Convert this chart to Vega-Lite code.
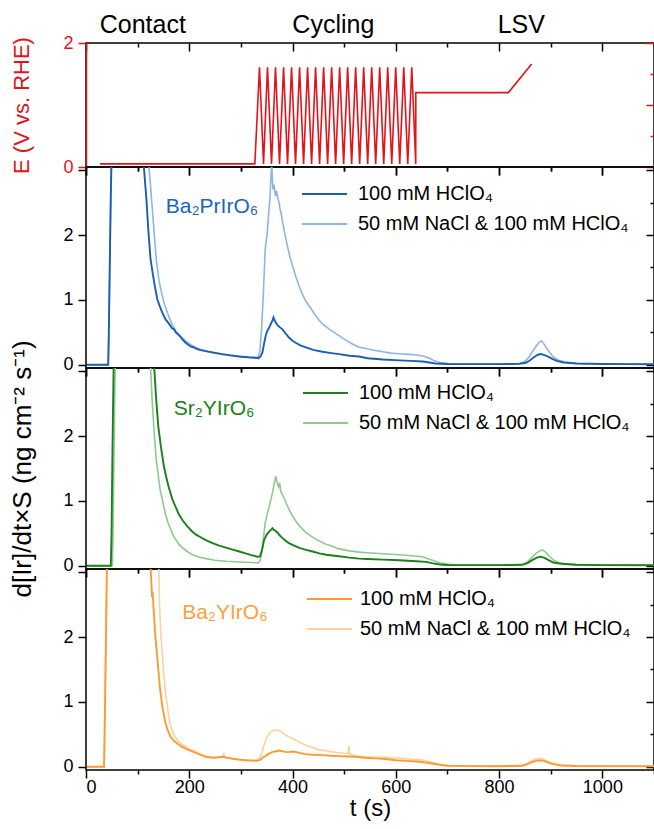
{
  "$schema": "https://vega.github.io/schema/vega-lite/v6.json",
  "padding": {"left": 9, "top": 12, "right": 0, "bottom": 5},
  "config": {
    "font": "Liberation Sans",
    "view": {"stroke": "#000000", "strokeWidth": 1.5},
    "axis": {"grid": false, "domain": false, "labelFont": "Liberation Sans", "titleFont": "Liberation Sans", "labelFontSize": 18, "titleFontSize": 24, "titleFontWeight": "normal", "labelColor": "#000000", "titleColor": "#000000", "tickColor": "#000000", "tickWidth": 1.5}
  },
  "datasets": {
    "potential": [
      {"t": 27, "E": 0.05}, {"t": 327, "E": 0.05},
      {"t": 336.0, "E": 1.61}, {"t": 343.8, "E": 0.05}, {"t": 351.5, "E": 1.61}, {"t": 359.3, "E": 0.05},
      {"t": 367.0, "E": 1.61}, {"t": 374.8, "E": 0.05}, {"t": 382.6, "E": 1.61}, {"t": 390.3, "E": 0.05},
      {"t": 398.1, "E": 1.61}, {"t": 405.8, "E": 0.05}, {"t": 413.6, "E": 1.61}, {"t": 421.4, "E": 0.05},
      {"t": 429.1, "E": 1.61}, {"t": 436.9, "E": 0.05}, {"t": 444.6, "E": 1.61}, {"t": 452.4, "E": 0.05},
      {"t": 460.2, "E": 1.61}, {"t": 467.9, "E": 0.05}, {"t": 475.7, "E": 1.61}, {"t": 483.4, "E": 0.05},
      {"t": 491.2, "E": 1.61}, {"t": 499.0, "E": 0.05}, {"t": 506.7, "E": 1.61}, {"t": 514.5, "E": 0.05},
      {"t": 522.2, "E": 1.61}, {"t": 530.0, "E": 0.05}, {"t": 537.8, "E": 1.61}, {"t": 545.5, "E": 0.05},
      {"t": 553.3, "E": 1.61}, {"t": 561.0, "E": 0.05}, {"t": 568.8, "E": 1.61}, {"t": 576.6, "E": 0.05},
      {"t": 584.3, "E": 1.61}, {"t": 592.1, "E": 0.05}, {"t": 599.8, "E": 1.61}, {"t": 607.6, "E": 0.05},
      {"t": 615.4, "E": 1.61}, {"t": 623.1, "E": 0.05}, {"t": 630.9, "E": 1.61}, {"t": 638.6, "E": 0.05},
      {"t": 638.7, "E": 1.2}, {"t": 818, "E": 1.2}, {"t": 863, "E": 1.66}
    ],
    "phases": [
      {"phase": "Contact", "t": 110},
      {"phase": "Cycling", "t": 479},
      {"phase": "LSV", "t": 843}
    ],
    "ba2pr_hclo4": [
      {"t": 2, "v": 0}, {"t": 43, "v": 0}, {"t": 44, "v": 0.4}, {"t": 46, "v": 1.5}, {"t": 48, "v": 2.6}, {"t": 49.5, "v": 3.2}, {"t": 60, "v": 8}, {"t": 100, "v": 5},
      {"t": 112, "v": 3.06}, {"t": 117, "v": 2.55}, {"t": 121, "v": 2.04}, {"t": 125, "v": 1.63}, {"t": 129, "v": 1.42}, {"t": 132, "v": 1.27}, {"t": 138, "v": 1.01}, {"t": 143, "v": 0.9},
      {"t": 148, "v": 0.8}, {"t": 154, "v": 0.7}, {"t": 161, "v": 0.63}, {"t": 167, "v": 0.56}, {"t": 170, "v": 0.55}, {"t": 174, "v": 0.5}, {"t": 178, "v": 0.47}, {"t": 183, "v": 0.43},
      {"t": 188, "v": 0.38}, {"t": 193, "v": 0.34}, {"t": 198, "v": 0.31}, {"t": 203, "v": 0.28}, {"t": 208, "v": 0.27}, {"t": 213, "v": 0.25}, {"t": 220, "v": 0.23}, {"t": 232, "v": 0.21},
      {"t": 245, "v": 0.19}, {"t": 264, "v": 0.164}, {"t": 280, "v": 0.145}, {"t": 297, "v": 0.128}, {"t": 315, "v": 0.115}, {"t": 329, "v": 0.108}, {"t": 334, "v": 0.1}, {"t": 338, "v": 0.13},
      {"t": 341.7, "v": 0.19}, {"t": 345, "v": 0.33}, {"t": 348, "v": 0.447}, {"t": 351, "v": 0.52}, {"t": 354.8, "v": 0.575}, {"t": 358, "v": 0.63}, {"t": 361, "v": 0.68}, {"t": 363, "v": 0.73},
      {"t": 365, "v": 0.69}, {"t": 367, "v": 0.66}, {"t": 370, "v": 0.62}, {"t": 375, "v": 0.58}, {"t": 380, "v": 0.55}, {"t": 386, "v": 0.49}, {"t": 393, "v": 0.42}, {"t": 400, "v": 0.37},
      {"t": 406, "v": 0.34}, {"t": 415, "v": 0.3}, {"t": 426, "v": 0.267}, {"t": 440, "v": 0.23}, {"t": 458, "v": 0.2}, {"t": 475, "v": 0.18}, {"t": 490, "v": 0.164}, {"t": 510, "v": 0.14},
      {"t": 529, "v": 0.128}, {"t": 545, "v": 0.1}, {"t": 575, "v": 0.08}, {"t": 607, "v": 0.068}, {"t": 630, "v": 0.06}, {"t": 652, "v": 0.05}, {"t": 665, "v": 0.035}, {"t": 677, "v": 0.02},
      {"t": 700, "v": 0.012}, {"t": 750, "v": 0.01}, {"t": 800, "v": 0.01}, {"t": 840, "v": 0.015}, {"t": 852, "v": 0.03}, {"t": 860, "v": 0.07}, {"t": 868, "v": 0.12}, {"t": 875, "v": 0.155},
      {"t": 881, "v": 0.165}, {"t": 888, "v": 0.15}, {"t": 895, "v": 0.125}, {"t": 903, "v": 0.09}, {"t": 912, "v": 0.06}, {"t": 925, "v": 0.035}, {"t": 950, "v": 0.02}, {"t": 1000, "v": 0.012},
      {"t": 1050, "v": 0.01}, {"t": 1100, "v": 0.008}
    ],
    "ba2pr_nacl": [
      {"t": 2, "v": 0}, {"t": 43, "v": 0}, {"t": 44, "v": 0.4}, {"t": 46, "v": 1.5}, {"t": 48, "v": 2.6}, {"t": 49.5, "v": 3.2}, {"t": 60, "v": 8}, {"t": 110, "v": 5},
      {"t": 122, "v": 3.06}, {"t": 127, "v": 2.55}, {"t": 132, "v": 2.04}, {"t": 136, "v": 1.63}, {"t": 141, "v": 1.32}, {"t": 146, "v": 1.12}, {"t": 151, "v": 0.96}, {"t": 156, "v": 0.84},
      {"t": 161, "v": 0.73}, {"t": 167, "v": 0.62}, {"t": 174, "v": 0.52}, {"t": 183, "v": 0.44}, {"t": 193, "v": 0.37}, {"t": 203, "v": 0.31}, {"t": 213, "v": 0.265}, {"t": 222, "v": 0.235},
      {"t": 232, "v": 0.21}, {"t": 245, "v": 0.185}, {"t": 264, "v": 0.16}, {"t": 280, "v": 0.145}, {"t": 297, "v": 0.128}, {"t": 315, "v": 0.112}, {"t": 332, "v": 0.1}, {"t": 336.5, "v": 0.19},
      {"t": 340, "v": 0.55}, {"t": 343, "v": 1.01}, {"t": 347, "v": 1.78}, {"t": 351, "v": 2.04}, {"t": 353, "v": 2.25}, {"t": 356, "v": 2.55}, {"t": 359.6, "v": 3.1}, {"t": 361, "v": 2.85},
      {"t": 362, "v": 2.7}, {"t": 364, "v": 2.78}, {"t": 367, "v": 2.6}, {"t": 369, "v": 2.68}, {"t": 372, "v": 2.55}, {"t": 374, "v": 2.5}, {"t": 376, "v": 2.39}, {"t": 378, "v": 2.33},
      {"t": 381, "v": 2.19}, {"t": 386, "v": 1.98}, {"t": 391, "v": 1.8}, {"t": 396, "v": 1.63}, {"t": 401, "v": 1.5}, {"t": 406, "v": 1.37}, {"t": 412, "v": 1.23}, {"t": 419, "v": 1.09},
      {"t": 425, "v": 0.99}, {"t": 432, "v": 0.91}, {"t": 442, "v": 0.79}, {"t": 452, "v": 0.68}, {"t": 461, "v": 0.61}, {"t": 471, "v": 0.55}, {"t": 480, "v": 0.5}, {"t": 490, "v": 0.45},
      {"t": 503, "v": 0.38}, {"t": 516, "v": 0.32}, {"t": 529, "v": 0.27}, {"t": 542, "v": 0.25}, {"t": 560, "v": 0.22}, {"t": 575, "v": 0.2}, {"t": 590, "v": 0.18}, {"t": 607, "v": 0.17},
      {"t": 626, "v": 0.16}, {"t": 640, "v": 0.15}, {"t": 655, "v": 0.13}, {"t": 665, "v": 0.1}, {"t": 675, "v": 0.06}, {"t": 685, "v": 0.035}, {"t": 700, "v": 0.02}, {"t": 720, "v": 0.012},
      {"t": 800, "v": 0.01}, {"t": 840, "v": 0.02}, {"t": 850, "v": 0.05}, {"t": 858, "v": 0.12}, {"t": 866, "v": 0.22}, {"t": 873, "v": 0.3}, {"t": 878, "v": 0.35}, {"t": 882, "v": 0.37},
      {"t": 886, "v": 0.33}, {"t": 890, "v": 0.28}, {"t": 897, "v": 0.2}, {"t": 905, "v": 0.12}, {"t": 915, "v": 0.07}, {"t": 930, "v": 0.04}, {"t": 950, "v": 0.02}, {"t": 1000, "v": 0.012},
      {"t": 1100, "v": 0.008}
    ],
    "sr2y_hclo4": [
      {"t": 2, "v": 0}, {"t": 48, "v": 0}, {"t": 49.5, "v": 0.5}, {"t": 51, "v": 1.6}, {"t": 53, "v": 2.8}, {"t": 54, "v": 3.3}, {"t": 70, "v": 8}, {"t": 125, "v": 5},
      {"t": 132, "v": 3.07}, {"t": 136, "v": 2.56}, {"t": 140, "v": 2.15}, {"t": 145, "v": 1.84}, {"t": 151, "v": 1.53}, {"t": 155, "v": 1.38}, {"t": 160, "v": 1.22}, {"t": 167.5, "v": 1.02},
      {"t": 174, "v": 0.9}, {"t": 180, "v": 0.79}, {"t": 188, "v": 0.69}, {"t": 196, "v": 0.61}, {"t": 204, "v": 0.54}, {"t": 213, "v": 0.48}, {"t": 222, "v": 0.44}, {"t": 232, "v": 0.395},
      {"t": 245, "v": 0.35}, {"t": 258, "v": 0.31}, {"t": 271, "v": 0.28}, {"t": 284, "v": 0.25}, {"t": 297, "v": 0.22}, {"t": 309, "v": 0.19}, {"t": 320, "v": 0.165}, {"t": 332, "v": 0.14},
      {"t": 337, "v": 0.145}, {"t": 341, "v": 0.25}, {"t": 345, "v": 0.4}, {"t": 350, "v": 0.48}, {"t": 355, "v": 0.53}, {"t": 359, "v": 0.56}, {"t": 361, "v": 0.58}, {"t": 364, "v": 0.55},
      {"t": 367, "v": 0.54}, {"t": 371, "v": 0.51}, {"t": 375, "v": 0.47}, {"t": 380, "v": 0.43}, {"t": 386, "v": 0.39}, {"t": 393, "v": 0.35}, {"t": 403, "v": 0.31}, {"t": 413, "v": 0.275},
      {"t": 426, "v": 0.245}, {"t": 439, "v": 0.22}, {"t": 452, "v": 0.19}, {"t": 465, "v": 0.17}, {"t": 477, "v": 0.158}, {"t": 490, "v": 0.147}, {"t": 510, "v": 0.125}, {"t": 529, "v": 0.11},
      {"t": 545, "v": 0.105}, {"t": 575, "v": 0.095}, {"t": 607, "v": 0.086}, {"t": 640, "v": 0.07}, {"t": 658, "v": 0.06}, {"t": 670, "v": 0.04}, {"t": 685, "v": 0.02}, {"t": 700, "v": 0.012},
      {"t": 800, "v": 0.01}, {"t": 845, "v": 0.015}, {"t": 855, "v": 0.04}, {"t": 865, "v": 0.09}, {"t": 873, "v": 0.125}, {"t": 880, "v": 0.14}, {"t": 887, "v": 0.125}, {"t": 895, "v": 0.09},
      {"t": 905, "v": 0.05}, {"t": 920, "v": 0.03}, {"t": 950, "v": 0.015}, {"t": 1000, "v": 0.01}, {"t": 1100, "v": 0.008}
    ],
    "sr2y_nacl": [
      {"t": 2, "v": 0}, {"t": 51, "v": 0}, {"t": 52.5, "v": 0.5}, {"t": 54, "v": 1.6}, {"t": 56, "v": 2.8}, {"t": 57, "v": 3.3}, {"t": 70, "v": 8}, {"t": 120, "v": 5},
      {"t": 125, "v": 3.07}, {"t": 128, "v": 2.56}, {"t": 132, "v": 2.05}, {"t": 136, "v": 1.64}, {"t": 141, "v": 1.33}, {"t": 144, "v": 1.15}, {"t": 148, "v": 1.02}, {"t": 154, "v": 0.79},
      {"t": 159, "v": 0.66}, {"t": 164, "v": 0.56}, {"t": 169, "v": 0.47}, {"t": 174, "v": 0.4}, {"t": 180, "v": 0.33}, {"t": 187, "v": 0.275}, {"t": 196, "v": 0.22}, {"t": 206, "v": 0.17},
      {"t": 218, "v": 0.135}, {"t": 232, "v": 0.11}, {"t": 250, "v": 0.085}, {"t": 271, "v": 0.07}, {"t": 290, "v": 0.062}, {"t": 309, "v": 0.055}, {"t": 334, "v": 0.045}, {"t": 337, "v": 0.08},
      {"t": 340.5, "v": 0.2}, {"t": 344, "v": 0.45}, {"t": 347, "v": 0.66}, {"t": 351, "v": 0.8}, {"t": 355, "v": 0.92}, {"t": 358, "v": 1.02}, {"t": 361, "v": 1.12}, {"t": 364, "v": 1.25},
      {"t": 367.5, "v": 1.38}, {"t": 369, "v": 1.32}, {"t": 371, "v": 1.26}, {"t": 373, "v": 1.22}, {"t": 375, "v": 1.28}, {"t": 377, "v": 1.15}, {"t": 380, "v": 1.1}, {"t": 384, "v": 1.04},
      {"t": 388, "v": 0.96}, {"t": 393, "v": 0.87}, {"t": 399, "v": 0.78}, {"t": 406, "v": 0.69}, {"t": 415, "v": 0.6}, {"t": 426, "v": 0.51}, {"t": 435, "v": 0.46}, {"t": 445, "v": 0.41},
      {"t": 455, "v": 0.37}, {"t": 465, "v": 0.33}, {"t": 477, "v": 0.3}, {"t": 490, "v": 0.26}, {"t": 510, "v": 0.23}, {"t": 529, "v": 0.21}, {"t": 545, "v": 0.2}, {"t": 575, "v": 0.185},
      {"t": 607, "v": 0.17}, {"t": 630, "v": 0.155}, {"t": 652, "v": 0.14}, {"t": 665, "v": 0.1}, {"t": 677, "v": 0.07}, {"t": 688, "v": 0.04}, {"t": 700, "v": 0.025}, {"t": 720, "v": 0.012},
      {"t": 800, "v": 0.01}, {"t": 845, "v": 0.02}, {"t": 855, "v": 0.06}, {"t": 865, "v": 0.14}, {"t": 873, "v": 0.2}, {"t": 880, "v": 0.235}, {"t": 885, "v": 0.24}, {"t": 890, "v": 0.21},
      {"t": 897, "v": 0.15}, {"t": 905, "v": 0.09}, {"t": 915, "v": 0.05}, {"t": 930, "v": 0.025}, {"t": 950, "v": 0.015}, {"t": 1000, "v": 0.01}, {"t": 1100, "v": 0.008}
    ],
    "ba2y_hclo4": [
      {"t": 2, "v": 0}, {"t": 35, "v": 0}, {"t": 36, "v": 0.5}, {"t": 38, "v": 1.6}, {"t": 40, "v": 2.8}, {"t": 41, "v": 3.3}, {"t": 60, "v": 8}, {"t": 115, "v": 5},
      {"t": 125, "v": 3.08}, {"t": 127, "v": 2.77}, {"t": 128, "v": 2.62}, {"t": 129, "v": 2.7}, {"t": 130, "v": 2.56}, {"t": 134, "v": 2.05}, {"t": 138.5, "v": 1.64}, {"t": 143, "v": 1.23},
      {"t": 148, "v": 0.92}, {"t": 154, "v": 0.67}, {"t": 159, "v": 0.55}, {"t": 164, "v": 0.46}, {"t": 170, "v": 0.4}, {"t": 177, "v": 0.36}, {"t": 185, "v": 0.31}, {"t": 193, "v": 0.28},
      {"t": 203, "v": 0.245}, {"t": 213, "v": 0.215}, {"t": 222, "v": 0.185}, {"t": 232, "v": 0.154}, {"t": 242, "v": 0.142}, {"t": 251, "v": 0.14}, {"t": 258, "v": 0.148}, {"t": 264, "v": 0.154},
      {"t": 271, "v": 0.14}, {"t": 284, "v": 0.123}, {"t": 297, "v": 0.11}, {"t": 309, "v": 0.1}, {"t": 322, "v": 0.095}, {"t": 332, "v": 0.092}, {"t": 338, "v": 0.11}, {"t": 345, "v": 0.154},
      {"t": 352, "v": 0.19}, {"t": 361, "v": 0.23}, {"t": 368, "v": 0.24}, {"t": 374, "v": 0.25}, {"t": 380, "v": 0.24}, {"t": 387, "v": 0.23}, {"t": 393, "v": 0.226}, {"t": 400, "v": 0.235},
      {"t": 406, "v": 0.23}, {"t": 415, "v": 0.21}, {"t": 426, "v": 0.195}, {"t": 440, "v": 0.185}, {"t": 458, "v": 0.18}, {"t": 475, "v": 0.17}, {"t": 490, "v": 0.164}, {"t": 510, "v": 0.158},
      {"t": 523, "v": 0.154}, {"t": 540, "v": 0.14}, {"t": 560, "v": 0.13}, {"t": 580, "v": 0.12}, {"t": 600, "v": 0.1}, {"t": 620, "v": 0.09}, {"t": 640, "v": 0.08}, {"t": 655, "v": 0.07},
      {"t": 670, "v": 0.05}, {"t": 685, "v": 0.03}, {"t": 700, "v": 0.015}, {"t": 750, "v": 0.01}, {"t": 800, "v": 0.008}, {"t": 845, "v": 0.015}, {"t": 855, "v": 0.04}, {"t": 865, "v": 0.075},
      {"t": 873, "v": 0.095}, {"t": 880, "v": 0.1}, {"t": 887, "v": 0.09}, {"t": 895, "v": 0.065}, {"t": 905, "v": 0.04}, {"t": 920, "v": 0.02}, {"t": 950, "v": 0.012}, {"t": 1000, "v": 0.01},
      {"t": 1100, "v": 0.008}
    ],
    "ba2y_nacl": [
      {"t": 2, "v": 0}, {"t": 35, "v": 0}, {"t": 36, "v": 0.5}, {"t": 38, "v": 1.6}, {"t": 40, "v": 2.8}, {"t": 41, "v": 3.3}, {"t": 60, "v": 8}, {"t": 130, "v": 5},
      {"t": 141, "v": 3.08}, {"t": 142, "v": 2.56}, {"t": 145, "v": 2.05}, {"t": 149, "v": 1.59}, {"t": 154, "v": 1.13}, {"t": 159.5, "v": 0.82}, {"t": 163, "v": 0.66}, {"t": 167, "v": 0.56},
      {"t": 172, "v": 0.47}, {"t": 177, "v": 0.41}, {"t": 185, "v": 0.35}, {"t": 193, "v": 0.31}, {"t": 203, "v": 0.26}, {"t": 213, "v": 0.23}, {"t": 222, "v": 0.19}, {"t": 232, "v": 0.16},
      {"t": 245, "v": 0.145}, {"t": 258, "v": 0.145}, {"t": 264, "v": 0.15}, {"t": 267, "v": 0.2}, {"t": 269, "v": 0.15}, {"t": 280, "v": 0.13}, {"t": 296, "v": 0.11}, {"t": 315, "v": 0.1},
      {"t": 332, "v": 0.1}, {"t": 338, "v": 0.154}, {"t": 343, "v": 0.28}, {"t": 348, "v": 0.41}, {"t": 353, "v": 0.49}, {"t": 358, "v": 0.54}, {"t": 364.6, "v": 0.57}, {"t": 369, "v": 0.56},
      {"t": 374, "v": 0.56}, {"t": 380, "v": 0.53}, {"t": 387, "v": 0.49}, {"t": 396, "v": 0.45}, {"t": 406, "v": 0.41}, {"t": 415, "v": 0.37}, {"t": 426, "v": 0.33}, {"t": 439, "v": 0.295},
      {"t": 452, "v": 0.26}, {"t": 465, "v": 0.245}, {"t": 477, "v": 0.23}, {"t": 490, "v": 0.215}, {"t": 503, "v": 0.205}, {"t": 507, "v": 0.2}, {"t": 509, "v": 0.33}, {"t": 511, "v": 0.2},
      {"t": 520, "v": 0.175}, {"t": 529, "v": 0.16}, {"t": 545, "v": 0.155}, {"t": 560, "v": 0.15}, {"t": 580, "v": 0.145}, {"t": 600, "v": 0.135}, {"t": 620, "v": 0.125}, {"t": 640, "v": 0.11},
      {"t": 655, "v": 0.1}, {"t": 670, "v": 0.07}, {"t": 685, "v": 0.04}, {"t": 700, "v": 0.02}, {"t": 750, "v": 0.012}, {"t": 800, "v": 0.01}, {"t": 845, "v": 0.02}, {"t": 855, "v": 0.06},
      {"t": 865, "v": 0.1}, {"t": 873, "v": 0.125}, {"t": 880, "v": 0.13}, {"t": 887, "v": 0.115}, {"t": 895, "v": 0.08}, {"t": 905, "v": 0.05}, {"t": 920, "v": 0.025}, {"t": 950, "v": 0.015},
      {"t": 1000, "v": 0.01}, {"t": 1100, "v": 0.008}
    ]
  },
  "vconcat": [
    {
      "width": 568,
      "height": 124,
      "layer": [
        {
          "data": {"name": "potential"},
          "mark": {"type": "line", "color": "#e3131b", "strokeWidth": 1.6, "clip": true},
          "encoding": {
            "x": {"field": "t", "type": "quantitative", "scale": {"domain": [0, 1100], "nice": false, "zero": false},
                  "axis": {"orient": "bottom", "values": [0, 100, 200, 300, 400, 500, 600, 700, 800, 900, 1000, 1100], "labels": false, "title": null,
                           "tickSize": {"condition": {"test": "datum.value % 200 === 0", "value": 8}, "value": 4}}},
            "y": {"field": "E", "type": "quantitative", "scale": {"domain": [0, 2], "nice": false, "zero": false},
                  "axis": {"orient": "left", "values": [0, 0.5, 1, 1.5, 2], "format": "d", "labelExpr": "datum.value % 1 === 0 ? datum.label : ''",
                           "tickSize": {"condition": {"test": "datum.value % 1 === 0", "value": 8}, "value": 4},
                           "labelPadding": 5, "domain": true, "domainColor": "#e3131b", "domainWidth": 1.5,
                           "tickColor": "#e3131b", "labelColor": "#e3131b", "titleColor": "#e3131b",
                           "title": "E (V vs. RHE)", "titleFontSize": 22, "titlePadding": 29}}
          }
        },
        {
          "data": {"name": "phases"},
          "mark": {"type": "text", "fontSize": 25, "baseline": "middle", "align": "center", "color": "#000000"},
          "encoding": {
            "x": {"field": "t", "type": "quantitative", "scale": {"domain": [0, 1100], "nice": false, "zero": false}, "axis": null},
            "y": {"datum": 2.29, "type": "quantitative", "axis": null},
            "text": {"field": "phase"}
          }
        },
        {
          "data": {"name": "potential"},
          "mark": {"type": "point", "opacity": 0, "clip": true},
          "encoding": {
            "x": {"field": "t", "type": "quantitative", "scale": {"domain": [0, 1100], "nice": false, "zero": false},
                  "axis": {"orient": "top", "values": [0, 100, 200, 300, 400, 500, 600, 700, 800, 900, 1000, 1100], "labels": false, "title": null,
                           "tickSize": {"condition": {"test": "datum.value % 200 === 0", "value": -8}, "value": -4}}},
            "y": {"field": "E", "type": "quantitative", "scale": {"domain": [0, 2], "nice": false, "zero": false},
                  "axis": {"orient": "right", "values": [0, 0.5, 1, 1.5, 2], "labels": false, "title": null, "tickColor": "#e3131b",
                           "tickSize": {"condition": {"test": "datum.value % 1 === 0", "value": -8}, "value": -4}}}
          }
        }
      ],
      "resolve": {"axis": {"x": "independent", "y": "independent"}}
    },
    {
      "width": 568,
      "height": 201,
      "layer": [
        {
          "data": {"name": "ba2pr_nacl"},
          "mark": {"type": "line", "strokeWidth": 1.6, "clip": true},
          "encoding": {
            "x": {"field": "t", "type": "quantitative", "scale": {"domain": [0, 1100], "nice": false, "zero": false},
                  "axis": {"orient": "bottom", "values": [0, 100, 200, 300, 400, 500, 600, 700, 800, 900, 1000, 1100], "labels": false, "title": null,
                           "tickSize": {"condition": {"test": "datum.value % 200 === 0", "value": 8}, "value": 4}}},
            "y": {"field": "v", "type": "quantitative", "scale": {"domain": [-0.05, 3.05], "nice": false, "zero": false},
                  "axis": {"orient": "left", "values": [0, 0.5, 1, 1.5, 2, 2.5, 3], "format": "d", "labelExpr": "datum.value % 1 === 0 && datum.value < 3 ? datum.label : ''",
                           "tickSize": {"condition": {"test": "datum.value % 1 === 0", "value": 8}, "value": 4}, "labelPadding": 5, "title": null}},
            "color": {"datum": "50 mM NaCl & 100 mM HClO₄",
                      "scale": {"domain": ["100 mM HClO₄", "50 mM NaCl & 100 mM HClO₄"], "range": ["#1b5fb5", "#8eb5e3"]},
                      "legend": {"title": null, "orient": "none", "legendX": 215, "legendY": 12, "symbolType": "stroke", "symbolSize": 2025, "symbolStrokeWidth": 2,
                                 "labelFontSize": 20, "labelFont": "Liberation Sans", "labelColor": "#000000", "labelOffset": 10, "clipHeight": 30, "rowPadding": 0, "labelLimit": 400, "padding": 0}}
          }
        },
        {
          "data": {"name": "ba2pr_hclo4"},
          "mark": {"type": "line", "strokeWidth": 1.9, "clip": true},
          "encoding": {
            "x": {"field": "t", "type": "quantitative", "scale": {"domain": [0, 1100], "nice": false, "zero": false}, "axis": null},
            "y": {"field": "v", "type": "quantitative", "scale": {"domain": [-0.05, 3.05], "nice": false, "zero": false}, "axis": null},
            "color": {"datum": "100 mM HClO₄",
                      "scale": {"domain": ["100 mM HClO₄", "50 mM NaCl & 100 mM HClO₄"], "range": ["#1b5fb5", "#8eb5e3"]}}
          }
        },
        {
          "data": {"values": [{"compound": "Ba₂PrIrO₆"}]},
          "mark": {"type": "text", "fontSize": 21, "baseline": "middle", "align": "center", "color": "#1b64c2"},
          "encoding": {
            "x": {"datum": 244, "type": "quantitative", "axis": null},
            "y": {"datum": 2.43, "type": "quantitative", "axis": null},
            "text": {"field": "compound"}
          }
        },
        {
          "data": {"name": "ba2pr_hclo4"},
          "mark": {"type": "point", "opacity": 0, "clip": true},
          "encoding": {
            "x": {"field": "t", "type": "quantitative", "scale": {"domain": [0, 1100], "nice": false, "zero": false},
                  "axis": {"orient": "top", "values": [0, 100, 200, 300, 400, 500, 600, 700, 800, 900, 1000, 1100], "labels": false, "title": null,
                           "tickSize": {"condition": {"test": "datum.value % 200 === 0", "value": -8}, "value": -4}}},
            "y": {"field": "v", "type": "quantitative", "scale": {"domain": [-0.05, 3.05], "nice": false, "zero": false},
                  "axis": {"orient": "right", "values": [0, 0.5, 1, 1.5, 2, 2.5, 3], "labels": false, "title": null,
                           "tickSize": {"condition": {"test": "datum.value % 1 === 0", "value": -8}, "value": -4}}}
          }
        }
      ],
      "resolve": {"axis": {"x": "independent", "y": "independent"}}
    },
    {
      "width": 568,
      "height": 201,
      "layer": [
        {
          "data": {"name": "sr2y_nacl"},
          "mark": {"type": "line", "strokeWidth": 1.6, "clip": true},
          "encoding": {
            "x": {"field": "t", "type": "quantitative", "scale": {"domain": [0, 1100], "nice": false, "zero": false},
                  "axis": {"orient": "bottom", "values": [0, 100, 200, 300, 400, 500, 600, 700, 800, 900, 1000, 1100], "labels": false, "title": null,
                           "tickSize": {"condition": {"test": "datum.value % 200 === 0", "value": 8}, "value": 4}}},
            "y": {"field": "v", "type": "quantitative", "scale": {"domain": [-0.05, 3.05], "nice": false, "zero": false},
                  "axis": {"orient": "left", "values": [0, 0.5, 1, 1.5, 2, 2.5, 3], "format": "d", "labelExpr": "datum.value % 1 === 0 && datum.value < 3 ? datum.label : ''",
                           "tickSize": {"condition": {"test": "datum.value % 1 === 0", "value": 8}, "value": 4}, "labelPadding": 5,
                           "title": "d[Ir]/dt×S (ng cm⁻² s⁻¹)", "titleFontSize": 26, "titlePadding": 27}},
            "color": {"datum": "50 mM NaCl & 100 mM HClO₄",
                      "scale": {"domain": ["100 mM HClO₄", "50 mM NaCl & 100 mM HClO₄"], "range": ["#1b7f1b", "#8fc98f"]},
                      "legend": {"title": null, "orient": "none", "legendX": 216, "legendY": 10, "symbolType": "stroke", "symbolSize": 2025, "symbolStrokeWidth": 2,
                                 "labelFontSize": 20, "labelFont": "Liberation Sans", "labelColor": "#000000", "labelOffset": 10, "clipHeight": 30, "rowPadding": 0, "labelLimit": 400, "padding": 0}}
          }
        },
        {
          "data": {"name": "sr2y_hclo4"},
          "mark": {"type": "line", "strokeWidth": 1.9, "clip": true},
          "encoding": {
            "x": {"field": "t", "type": "quantitative", "scale": {"domain": [0, 1100], "nice": false, "zero": false}, "axis": null},
            "y": {"field": "v", "type": "quantitative", "scale": {"domain": [-0.05, 3.05], "nice": false, "zero": false}, "axis": null},
            "color": {"datum": "100 mM HClO₄",
                      "scale": {"domain": ["100 mM HClO₄", "50 mM NaCl & 100 mM HClO₄"], "range": ["#1b7f1b", "#8fc98f"]}}
          }
        },
        {
          "data": {"values": [{"compound": "Sr₂YIrO₆"}]},
          "mark": {"type": "text", "fontSize": 21, "baseline": "middle", "align": "center", "color": "#1b7f1b"},
          "encoding": {
            "x": {"datum": 248, "type": "quantitative", "axis": null},
            "y": {"datum": 2.42, "type": "quantitative", "axis": null},
            "text": {"field": "compound"}
          }
        },
        {
          "data": {"name": "sr2y_hclo4"},
          "mark": {"type": "point", "opacity": 0, "clip": true},
          "encoding": {
            "x": {"field": "t", "type": "quantitative", "scale": {"domain": [0, 1100], "nice": false, "zero": false},
                  "axis": {"orient": "top", "values": [0, 100, 200, 300, 400, 500, 600, 700, 800, 900, 1000, 1100], "labels": false, "title": null,
                           "tickSize": {"condition": {"test": "datum.value % 200 === 0", "value": -8}, "value": -4}}},
            "y": {"field": "v", "type": "quantitative", "scale": {"domain": [-0.05, 3.05], "nice": false, "zero": false},
                  "axis": {"orient": "right", "values": [0, 0.5, 1, 1.5, 2, 2.5, 3], "labels": false, "title": null,
                           "tickSize": {"condition": {"test": "datum.value % 1 === 0", "value": -8}, "value": -4}}}
          }
        }
      ],
      "resolve": {"axis": {"x": "independent", "y": "independent"}}
    },
    {
      "width": 568,
      "height": 201,
      "layer": [
        {
          "data": {"name": "ba2y_nacl"},
          "mark": {"type": "line", "strokeWidth": 1.6, "clip": true},
          "encoding": {
            "x": {"field": "t", "type": "quantitative", "scale": {"domain": [0, 1100], "nice": false, "zero": false},
                  "axis": {"orient": "bottom", "values": [0, 100, 200, 300, 400, 500, 600, 700, 800, 900, 1000, 1100], "format": "d",
                           "labelExpr": "datum.value % 200 === 0 ? datum.label : ''", "labelPadding": 0,
                           "tickSize": {"condition": {"test": "datum.value % 200 === 0", "value": 8}, "value": 4},
                           "title": "t (s)", "titlePadding": 0}},
            "y": {"field": "v", "type": "quantitative", "scale": {"domain": [-0.05, 3.05], "nice": false, "zero": false},
                  "axis": {"orient": "left", "values": [0, 0.5, 1, 1.5, 2, 2.5, 3], "format": "d", "labelExpr": "datum.value % 1 === 0 && datum.value < 3 ? datum.label : ''",
                           "tickSize": {"condition": {"test": "datum.value % 1 === 0", "value": 8}, "value": 4}, "labelPadding": 5, "title": null}},
            "color": {"datum": "50 mM NaCl & 100 mM HClO₄",
                      "scale": {"domain": ["100 mM HClO₄", "50 mM NaCl & 100 mM HClO₄"], "range": ["#ff9a33", "#ffd19e"]},
                      "legend": {"title": null, "orient": "none", "legendX": 220, "legendY": 15, "symbolType": "stroke", "symbolSize": 2025, "symbolStrokeWidth": 2,
                                 "labelFontSize": 20, "labelFont": "Liberation Sans", "labelColor": "#000000", "labelOffset": 7, "clipHeight": 30, "rowPadding": 0, "labelLimit": 400, "padding": 0}}
          }
        },
        {
          "data": {"name": "ba2y_hclo4"},
          "mark": {"type": "line", "strokeWidth": 1.9, "clip": true},
          "encoding": {
            "x": {"field": "t", "type": "quantitative", "scale": {"domain": [0, 1100], "nice": false, "zero": false}, "axis": null},
            "y": {"field": "v", "type": "quantitative", "scale": {"domain": [-0.05, 3.05], "nice": false, "zero": false}, "axis": null},
            "color": {"datum": "100 mM HClO₄",
                      "scale": {"domain": ["100 mM HClO₄", "50 mM NaCl & 100 mM HClO₄"], "range": ["#ff9a33", "#ffd19e"]}}
          }
        },
        {
          "data": {"values": [{"compound": "Ba₂YIrO₆"}]},
          "mark": {"type": "text", "fontSize": 21, "baseline": "middle", "align": "center", "color": "#ffa040"},
          "encoding": {
            "x": {"datum": 269, "type": "quantitative", "axis": null},
            "y": {"datum": 2.37, "type": "quantitative", "axis": null},
            "text": {"field": "compound"}
          }
        },
        {
          "data": {"name": "ba2y_hclo4"},
          "mark": {"type": "point", "opacity": 0, "clip": true},
          "encoding": {
            "x": {"field": "t", "type": "quantitative", "scale": {"domain": [0, 1100], "nice": false, "zero": false},
                  "axis": {"orient": "top", "values": [0, 100, 200, 300, 400, 500, 600, 700, 800, 900, 1000, 1100], "labels": false, "title": null,
                           "tickSize": {"condition": {"test": "datum.value % 200 === 0", "value": -8}, "value": -4}}},
            "y": {"field": "v", "type": "quantitative", "scale": {"domain": [-0.05, 3.05], "nice": false, "zero": false},
                  "axis": {"orient": "right", "values": [0, 0.5, 1, 1.5, 2, 2.5, 3], "labels": false, "title": null,
                           "tickSize": {"condition": {"test": "datum.value % 1 === 0", "value": -8}, "value": -4}}}
          }
        }
      ],
      "resolve": {"axis": {"x": "independent", "y": "independent"}}
    }
  ],
  "spacing": 0,
  "bounds": "flush",
  "resolve": {"scale": {"color": "independent", "x": "independent", "y": "independent"}, "legend": {"color": "independent"}}
}
